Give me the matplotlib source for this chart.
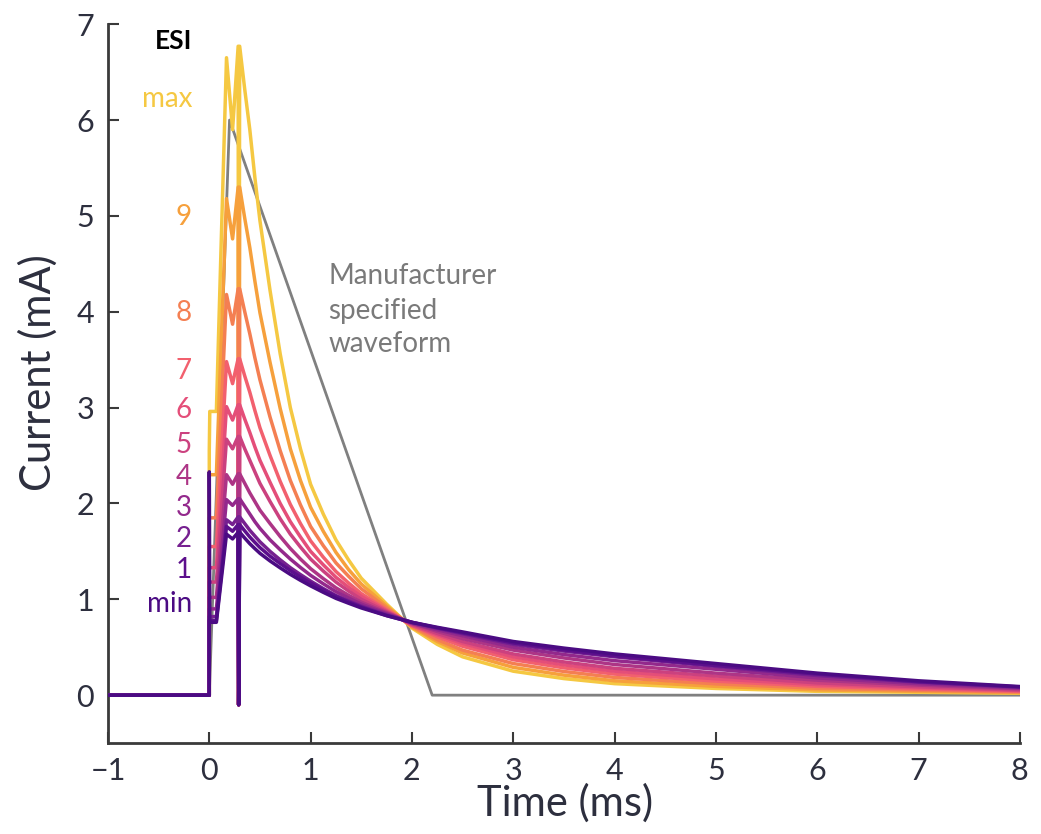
import numpy as np
import matplotlib
matplotlib.use('Agg')
import matplotlib.pyplot as plt

plt.rcParams['font.family'] = ['Lato', 'DejaVu Sans']

# ESI levels, drawn from max (bottom layer) to min (top layer)
levels = ['max', '9', '8', '7', '6', '5', '4', '3', '2', '1', 'min']
colors = ['#f5c842', '#f6a03c', '#f47f52', '#f2606e', '#e44e79', '#cb417f',
          '#ad3586', '#93298c', '#762090', '#5c0f8c', '#4b0b83']
label_y = [6.22, 4.99, 3.99, 3.38, 2.98, 2.61, 2.28, 1.95, 1.63, 1.31, 0.95]

# pulse onset: value at t=0, plateau, first peak, dip, second peak
onset = [2.55, 2.30, 1.85, 1.55, 1.33, 1.18, 1.02, 0.90, 0.82, 0.78, 2.33]
plateau = [2.96, 2.30, 1.85, 1.55, 1.33, 1.18, 1.02, 0.90, 0.82, 0.78, 0.76]
peak1 = [6.65, 5.18, 4.18, 3.48, 3.01, 2.67, 2.30, 2.04, 1.83, 1.76, 1.68]
dip = [5.90, 4.76, 3.87, 3.25, 2.87, 2.57, 2.20, 1.98, 1.78, 1.71, 1.63]
rise_t = [0.0, 0.005, 0.07, 0.17, 0.23, 0.285, 0.29]
spike_low = -0.1

# decay phase (after the switch at 0.3 ms)
decay_t = [0.3, 0.35, 0.4, 0.45, 0.5, 0.6, 0.7, 0.8, 0.9, 1.0, 1.125, 1.25, 1.375,
           1.5, 1.75, 2.0, 2.25, 2.5, 3.0, 3.5, 4.0, 5.0, 6.0, 7.0, 8.0]
i_max = [6.77, 6.32, 5.90, 5.40, 4.95, 4.22, 3.56, 3.00, 2.57, 2.20, 1.89, 1.62, 1.41,
         1.22, 0.95, 0.70, 0.53, 0.40, 0.25, 0.173, 0.12, 0.07, 0.04, 0.03, 0.02]
i_9 = [5.30, 4.975, 4.67, 4.32, 3.99, 3.47, 2.99, 2.57, 2.24, 1.96, 1.71, 1.49, 1.31,
       1.16, 0.93, 0.71, 0.56, 0.44, 0.29, 0.209, 0.15, 0.092, 0.055, 0.040, 0.026]
i_8 = [4.24, 4.00, 3.77, 3.52, 3.29, 2.90, 2.55, 2.24, 1.985, 1.76, 1.56, 1.38, 1.24,
       1.11, 0.91, 0.72, 0.58, 0.47, 0.33, 0.247, 0.185, 0.118, 0.072, 0.052, 0.033]
i_7 = [3.51, 3.33, 3.16, 2.97, 2.79, 2.50, 2.23, 1.99, 1.79, 1.61, 1.44, 1.29, 1.17,
       1.06, 0.89, 0.73, 0.61, 0.51, 0.37, 0.285, 0.22, 0.146, 0.092, 0.064, 0.041]
i_6 = [3.03, 2.88, 2.74, 2.59, 2.45, 2.22, 2.00, 1.81, 1.65, 1.50, 1.36, 1.23, 1.125,
       1.03, 0.88, 0.73, 0.63, 0.54, 0.40, 0.316, 0.25, 0.17, 0.11, 0.077, 0.048]
i_5 = [2.70, 2.57, 2.45, 2.33, 2.21, 2.02, 1.84, 1.68, 1.545, 1.42, 1.295, 1.18, 1.086,
       1.00, 0.87, 0.74, 0.644, 0.56, 0.43, 0.347, 0.28, 0.20, 0.128, 0.088, 0.054]
i_4 = [2.31, 2.21, 2.11, 2.02, 1.93, 1.79, 1.655, 1.53, 1.42, 1.32, 1.216, 1.12, 1.042,
       0.97, 0.86, 0.75, 0.665, 0.59, 0.47, 0.388, 0.32, 0.23, 0.156, 0.105, 0.065]
i_3 = [2.05, 1.97, 1.89, 1.81, 1.74, 1.62, 1.517, 1.42, 1.332, 1.25, 1.162, 1.08, 1.013,
       0.95, 0.85, 0.75, 0.682, 0.62, 0.50, 0.424, 0.36, 0.27, 0.18, 0.12, 0.073]
i_2 = [1.86, 1.79, 1.72, 1.66, 1.60, 1.50, 1.412, 1.33, 1.258, 1.19, 1.112, 1.04, 0.983,
       0.93, 0.84, 0.76, 0.697, 0.64, 0.53, 0.46, 0.40, 0.30, 0.205, 0.135, 0.082]
i_1 = [1.78, 1.714, 1.65, 1.594, 1.54, 1.45, 1.373, 1.30, 1.233, 1.17, 1.098, 1.03, 0.973,
       0.92, 0.83, 0.76, 0.703, 0.65, 0.545, 0.473, 0.41, 0.31, 0.22, 0.14, 0.086]
i_min = [1.70, 1.639, 1.58, 1.529, 1.48, 1.40, 1.328, 1.26, 1.198, 1.14, 1.073, 1.01, 0.959,
         0.91, 0.83, 0.76, 0.708, 0.66, 0.56, 0.491, 0.43, 0.33, 0.23, 0.15, 0.09]
decays = [i_max, i_9, i_8, i_7, i_6, i_5, i_4, i_3, i_2, i_1, i_min]

# manufacturer specified waveform
mfr_t = [-1, 0, 0.2, 2.2, 8]
mfr_i = [0, 0, 6, 0, 0]

fig = plt.figure(figsize=(10.41, 8.34), dpi=100)
ax = fig.add_axes([0.1037, 0.109, 0.876, 0.862])

ax.plot(mfr_t, mfr_i, color='#808080', lw=2.0, zorder=1)

for k in range(len(levels)):
    # baseline, pulse onset and switch spike, then the decay
    t = [-1.0] + rise_t + decay_t
    y = ([0.0, onset[k], plateau[k], plateau[k], peak1[k], dip[k], decays[k][0], spike_low]
         + decays[k])
    t = [-1.0, 0.0] + t[1:]
    y = [0.0, 0.0] + y[1:]
    ax.plot(t, y, color=colors[k], lw=2.5, zorder=2 + k, solid_joinstyle='round')
    ax.text(-0.17, label_y[k], levels[k], color=colors[k], fontsize=20,
            ha='right', va='center')

ax.text(-0.17, 6.82, 'ESI', color='black', fontsize=19, fontweight='bold',
        ha='right', va='center')

ax.text(1.175, 4.37, 'Manufacturer', color='#7a7a7a', fontsize=20, va='center')
ax.text(1.175, 4.01, 'specified', color='#7a7a7a', fontsize=20, va='center')
ax.text(1.175, 3.66, 'waveform', color='#7a7a7a', fontsize=20, va='center')

ax.set_xlim(-1, 8)
ax.set_ylim(-0.5, 7)
ax.set_xticks(range(-1, 9))
ax.set_yticks(range(0, 8))

txt = '#2d2f3e'
for s in ['top', 'right']:
    ax.spines[s].set_visible(False)
for s in ['left', 'bottom']:
    ax.spines[s].set_color('#3a3a3a')
    ax.spines[s].set_linewidth(2)
ax.tick_params(direction='in', length=8, width=1.5, color='#3a3a3a',
               labelsize=22, labelcolor=txt, pad=10)

ax.set_xlabel('Time (ms)', fontsize=30, color=txt)
ax.set_ylabel('Current (mA)', fontsize=30, color=txt)
ax.xaxis.set_label_coords(0.501, -0.056)
ax.yaxis.set_label_coords(-0.055, 0.515)

fig.savefig('out.png', dpi=100)
